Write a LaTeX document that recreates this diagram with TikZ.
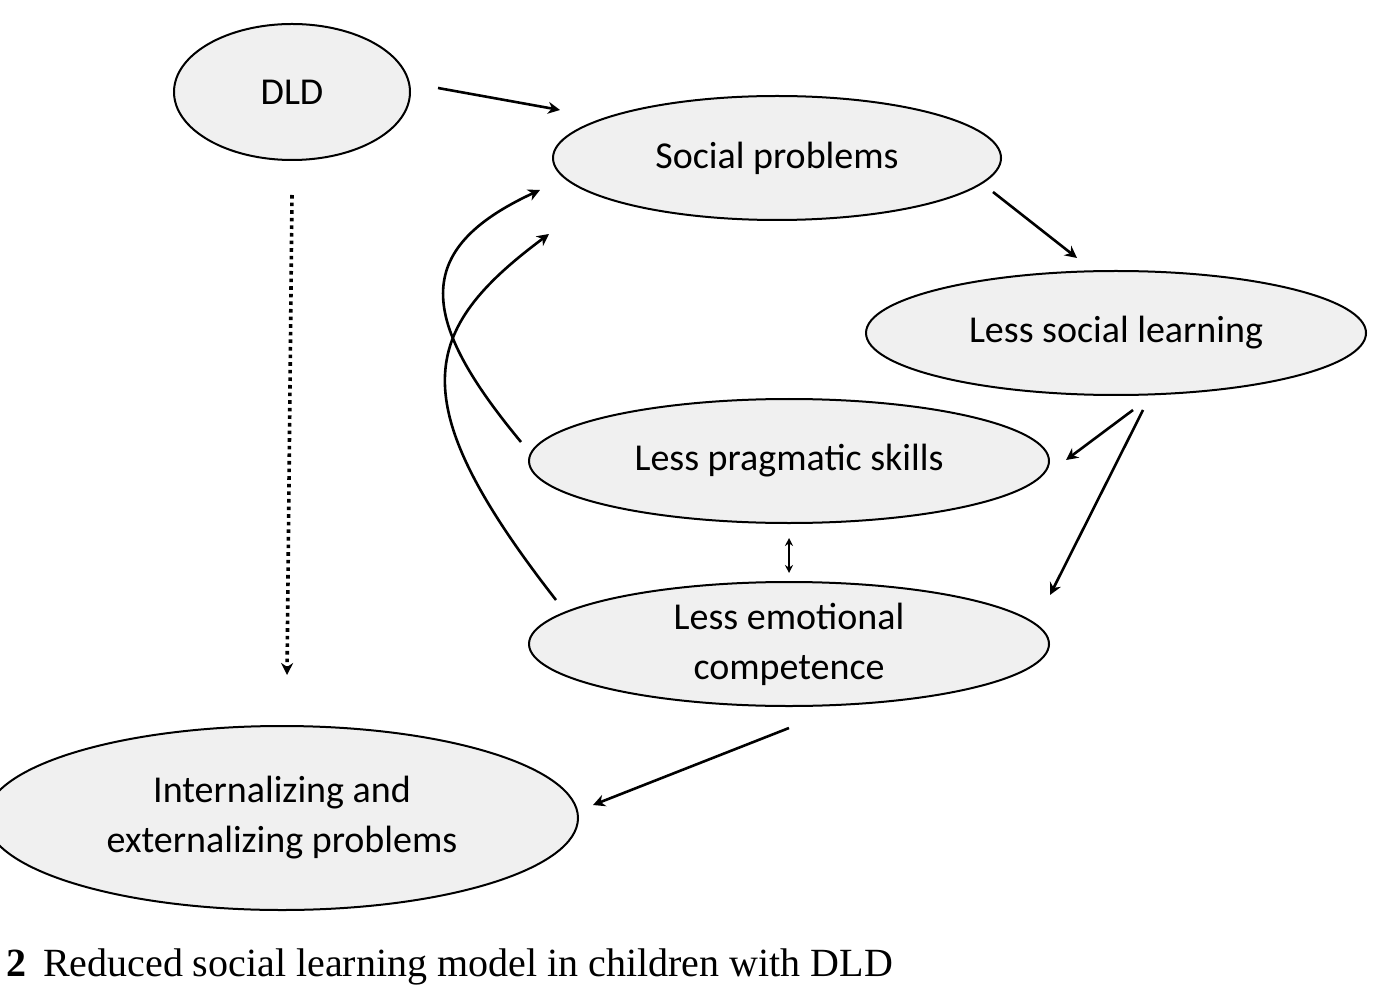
\documentclass[tikz,border=0pt]{standalone}
\usepackage{fontspec}
\setmainfont{Carlito}
\newfontfamily\capfont{Liberation Serif}
\usetikzlibrary{arrows.meta, shapes.geometric}

\begin{document}
\begin{tikzpicture}[x=0.5pt, y=-0.5pt, >={Stealth[length=6pt,width=6pt]},
	box/.style={ellipse, draw, line width=1pt, fill=gray!12, inner sep=0pt, align=center, font=\fontsize{19}{25}\selectfont},
	link/.style={->, line width=1.3pt}]
	
	\useasboundingbox (0,0) rectangle (1400,988);
	
	% --- nodes ---
	\node[box, minimum width=118pt, minimum height=68pt] (dld) at (292,92) {DLD};
	\node[box, minimum width=224pt, minimum height=62pt] (social) at (777,158) {Social problems};
	\node[box, minimum width=250pt, minimum height=62pt] (learning) at (1116,333) {Less social learning};
	\node[box, minimum width=260pt, minimum height=62pt] (pragmatic) at (789,461) {Less pragmatic skills};
	\node[box, minimum width=260pt, minimum height=62pt] (emotional) at (789,644) {Less emotional\\competence};
	\node[box, minimum width=296pt, minimum height=92pt] (problems) at (282,818) {Internalizing and\\externalizing problems};
	
	% --- connector ends ---
	\coordinate (dldout) at (438,88);
	\coordinate (socin) at (560,110);
	\coordinate (socout) at (993,192);
	\coordinate (learnin) at (1077,258);
	\coordinate (learnoutA) at (1133,410);
	\coordinate (learnoutB) at (1143,410);
	\coordinate (pragin) at (1066,460);
	\coordinate (emoin) at (1050,595);
	\coordinate (pragbot) at (789,538);
	\coordinate (emotop) at (789,573);
	\coordinate (emoout) at (789,728);
	\coordinate (probin) at (593,805);
	\coordinate (dldbot) at (292,195);
	\coordinate (probtop) at (287,675);
	\coordinate (pragout) at (521,442);
	\coordinate (socinA) at (540,190);
	\coordinate (emoout2) at (556,600);
	\coordinate (socinB) at (549,234);
	
	% --- connectors ---
	\draw[link] (dldout) -- (socin);
	\draw[link] (socout) -- (learnin);
	\draw[link] (learnoutA) -- (pragin);
	\draw[link] (learnoutB) -- (emoin);
	\draw[{Stealth[length=4pt,width=4pt]}-{Stealth[length=4pt,width=4pt]}, line width=1.3pt] (pragbot) -- (emotop);
	\draw[link] (emoout) -- (probin);
	\draw[->, line width=1.8pt, dotted] (dldbot) -- (probtop);
	
	% feedback curves
	\draw[link] (pragout) .. controls (420,320) and (410,250) .. (socinA);
	\draw[link] (emoout2) .. controls (400,400) and (420,330) .. (socinB);
	
	% caption (cut off at the bottom)
	\node[anchor=south west, inner sep=1pt, font=\capfont\fontsize{20}{22}\selectfont] (caption) at (4,988) {\textbf{2}\, Reduced social learning model in children with DLD};
\end{tikzpicture}
\end{document}
